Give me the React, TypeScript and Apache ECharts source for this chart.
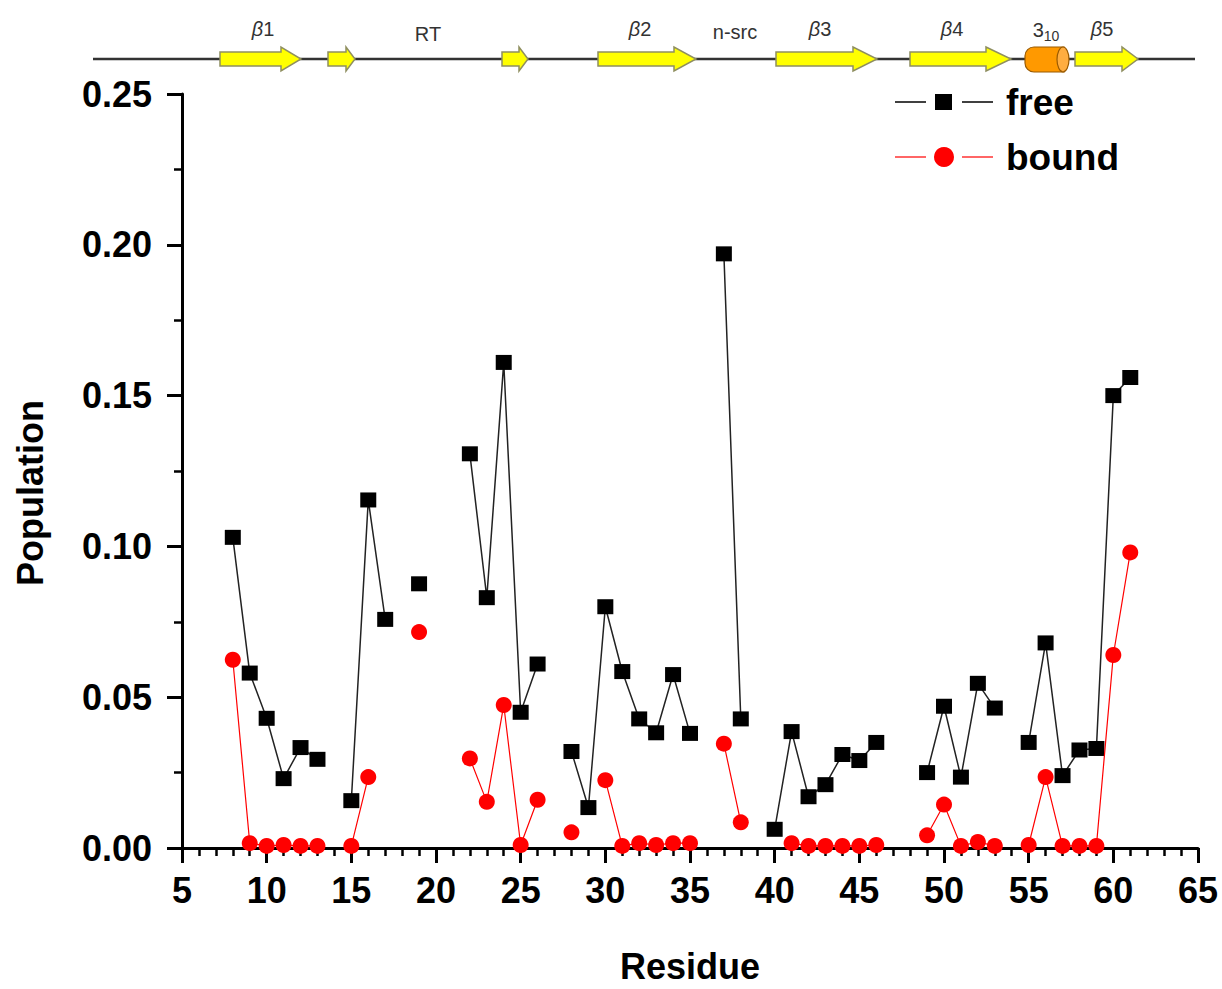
import React, { useEffect, useRef } from "react";
import * as echarts from "echarts";

const residues = [8, 9, 10, 11, 12, 13, 14, 15, 16, 17, 18, 19, 20, 21, 22, 23, 24, 25, 26, 27, 28, 29, 30, 31, 32, 33, 34, 35, 36, 37, 38, 39, 40, 41, 42, 43, 44, 45, 46, 47, 48, 49, 50, 51, 52, 53, 54, 55, 56, 57, 58, 59, 60, 61];

const freeValues = [0.103, 0.058, 0.043, 0.023, 0.0333, 0.0294, null, 0.0157, 0.1154, 0.0758, null, 0.0876, null, null, 0.1307, 0.083, 0.161, 0.045, 0.061, null, 0.032, 0.0134, 0.08, 0.0585, 0.0428, 0.0382, 0.0575, 0.038, null, 0.197, 0.0428, null, 0.0062, 0.0386, 0.017, 0.021, 0.031, 0.029, 0.035, null, null, 0.025, 0.047, 0.0235, 0.0546, 0.0464, null, 0.035, 0.068, 0.024, 0.0325, 0.033, 0.15, 0.156];

const boundValues = [0.0624, 0.0016, 0.0007, 0.001, 0.0007, 0.0007, null, 0.0007, 0.0235, null, null, 0.0716, null, null, 0.0297, 0.0153, 0.0474, 0.001, 0.016, null, 0.0052, null, 0.0225, 0.0007, 0.0016, 0.001, 0.0016, 0.0016, null, 0.0346, 0.0085, null, null, 0.0016, 0.0007, 0.0007, 0.0007, 0.0007, 0.001, null, null, 0.0042, 0.0144, 0.0007, 0.002, 0.0007, null, 0.001, 0.0235, 0.0007, 0.0007, 0.0007, 0.064, 0.098];

const seriesNames = ["free", "bound"];
const xTitle = "Residue";
const yTitle = "Population";

const FONT = "Liberation Sans, Arial, Helvetica, sans-serif";

function arrow(x0: number, x1: number, head: number) {
  const cy = 59;
  const sh = 7;
  const hh = 12;
  const hx = x1 - head;
  return {
    type: "polygon",
    shape: {
      points: [
        [x0, cy - sh],
        [hx, cy - sh],
        [hx, cy - hh],
        [x1, cy],
        [hx, cy + hh],
        [hx, cy + sh],
        [x0, cy + sh],
      ],
    },
    style: { fill: "#FFFF00", stroke: "#8f8f60", lineWidth: 1.5 },
    z: 10,
  };
}

function label(text: string, x: number, y: number, rich?: any) {
  return {
    type: "text",
    x,
    y,
    style: {
      text,
      align: "center",
      verticalAlign: "middle",
      font: `20px ${FONT}`,
      fill: "#333",
      rich,
    },
    z: 10,
  };
}

const betaRich = {
  b: { fontStyle: "italic", fontSize: 20, fontFamily: FONT, color: "#333" },
  n: { fontSize: 20, fontFamily: FONT, color: "#333" },
  s: { fontSize: 14, fontFamily: FONT, color: "#333", padding: [12, 0, 0, 0] },
};

export default function App() {
  const ref = useRef<HTMLDivElement>(null);
  useEffect(() => {
    if (!ref.current) return;
    const chart = echarts.init(ref.current, null, { renderer: "svg" });
    const freeData = residues.map((r, i) => [r, freeValues[i] === null ? "-" : freeValues[i]]);
    const boundData = residues.map((r, i) => [r, boundValues[i] === null ? "-" : boundValues[i]]);

    const graphics: any[] = [
      {
        type: "line",
        shape: { x1: 93, y1: 59, x2: 1195, y2: 59 },
        style: { stroke: "#333", lineWidth: 2.5 },
        z: 5,
      },
      arrow(220, 301, 20),
      arrow(328, 355, 9),
      arrow(502, 528, 9),
      arrow(598, 696, 22),
      arrow(776, 877, 24),
      arrow(910, 1011, 25),
      arrow(1075, 1138, 16),
      {
        type: "rect",
        shape: { x: 1025, y: 47, width: 39, height: 25, r: [9, 0, 0, 9] },
        style: { fill: "#FF9900", stroke: "#9a5a00", lineWidth: 1.2 },
        z: 10,
      },
      {
        type: "ellipse",
        shape: { cx: 1063, cy: 59.5, rx: 6, ry: 12.5 },
        style: { fill: "#FFAD40", stroke: "#9a5a00", lineWidth: 1.2 },
        z: 11,
      },
      label("{b|β}{n|1}", 263, 29, betaRich),
      label("RT", 428, 34),
      label("{b|β}{n|2}", 640, 29, betaRich),
      label("n-src", 735, 32),
      label("{b|β}{n|3}", 820, 29, betaRich),
      label("{b|β}{n|4}", 952, 29, betaRich),
      label("{n|3}{s|10}", 1046, 30, betaRich),
      label("{b|β}{n|5}", 1102, 29, betaRich),
      // legend
      { type: "line", shape: { x1: 895, y1: 102, x2: 926, y2: 102 }, style: { stroke: "#000", lineWidth: 1.5 }, z: 20 },
      { type: "rect", shape: { x: 935, y: 94, width: 17, height: 16 }, style: { fill: "#000" }, z: 20 },
      { type: "line", shape: { x1: 962, y1: 102, x2: 993, y2: 102 }, style: { stroke: "#000", lineWidth: 1.5 }, z: 20 },
      {
        type: "text",
        x: 1006,
        y: 102,
        style: { text: seriesNames[0], font: `bold 37px ${FONT}`, fill: "#000", verticalAlign: "middle", align: "left" },
        z: 20,
      },
      { type: "line", shape: { x1: 895, y1: 157, x2: 926, y2: 157 }, style: { stroke: "#ff0000", lineWidth: 1.2 }, z: 20 },
      { type: "circle", shape: { cx: 944, cy: 157, r: 10 }, style: { fill: "#ff0000" }, z: 20 },
      { type: "line", shape: { x1: 962, y1: 157, x2: 993, y2: 157 }, style: { stroke: "#ff0000", lineWidth: 1.2 }, z: 20 },
      {
        type: "text",
        x: 1006,
        y: 157,
        style: { text: seriesNames[1], font: `bold 37px ${FONT}`, fill: "#000", verticalAlign: "middle", align: "left" },
        z: 20,
      },
    ];

    chart.setOption({
      animation: false,
      backgroundColor: "#ffffff",
      grid: { left: 182, right: 24, top: 94, bottom: 130, containLabel: false },
      xAxis: {
        type: "value",
        min: 5,
        max: 65,
        interval: 5,
        name: xTitle,
        nameLocation: "middle",
        nameGap: 100,
        nameTextStyle: { fontFamily: FONT, fontWeight: "bold", fontSize: 36, color: "#000" },
        axisLine: { show: true, onZero: false, lineStyle: { color: "#000", width: 3 } },
        axisTick: { show: true, inside: false, length: 15, lineStyle: { color: "#000", width: 3 } },
        minorTick: { show: true, splitNumber: 5, length: 8, lineStyle: { color: "#000", width: 2.5 } },
        axisLabel: { margin: 24, fontFamily: FONT, fontWeight: "bold", fontSize: 36, color: "#000" },
        splitLine: { show: false },
      },
      yAxis: {
        type: "value",
        min: 0,
        max: 0.25,
        interval: 0.05,
        name: yTitle,
        nameLocation: "middle",
        nameGap: 134,
        nameRotate: 90,
        nameTextStyle: { fontFamily: FONT, fontWeight: "bold", fontSize: 36, color: "#000", padding: [0, 44, 0, 0] },
        axisLine: { show: true, onZero: false, lineStyle: { color: "#000", width: 3 } },
        axisTick: { show: true, inside: false, length: 15, lineStyle: { color: "#000", width: 3 } },
        minorTick: { show: true, splitNumber: 2, length: 8, lineStyle: { color: "#000", width: 2.5 } },
        axisLabel: {
          margin: 30,
          fontFamily: FONT,
          fontWeight: "bold",
          fontSize: 36,
          color: "#000",
          formatter: (v: number) => v.toFixed(2),
        },
        splitLine: { show: false },
      },
      graphic: graphics,
      series: [
        {
          name: seriesNames[0],
          type: "line",
          data: freeData,
          connectNulls: false,
          symbol: "rect",
          symbolSize: [16, 15],
          itemStyle: { color: "#000" },
          lineStyle: { color: "#222", width: 1.5 },
          z: 3,
        },
        {
          name: seriesNames[1],
          type: "line",
          data: boundData,
          connectNulls: false,
          symbol: "circle",
          symbolSize: 16,
          itemStyle: { color: "#ff0000" },
          lineStyle: { color: "#ff0000", width: 1.2 },
          z: 4,
        },
      ],
    });
    return () => chart.dispose();
  }, []);
  return (
    <div
      ref={ref}
      style={{ position: "absolute", left: 0, top: 0, width: 1222, height: 989, background: "#fff" }}
    />
  );
}
